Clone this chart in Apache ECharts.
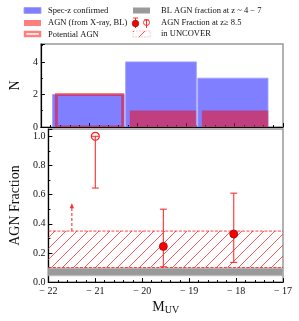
<!DOCTYPE html>
<html><head><meta charset="utf-8">
<script src="https://cdn.jsdelivr.net/npm/echarts@6/dist/echarts.min.js"></script>
<style>html,body{margin:0;padding:0;background:#fff}#c{width:299px;height:321px}</style>
</head><body><div id="c"></div><script>
// ---- data ----
const specBins = [[-21.76, -20.28], [-20.25, -18.79], [-18.76, -17.31]];
const specCounts = [2, 4, 3];
const agnBins = [[-20.16, -18.8], [-18.67, -17.31]];
const agnCounts = [1, 1];
const potBins = [[-21.68, -20.31]];
const potCounts = [2];
const blBand = [0.045, 0.095];
const uncoverBand = [0.10, 0.35];
const fracX = [-19.55, -18.05];
const fracY = [0.245, 0.33];
const fracLo = [0.105, 0.135];
const fracHi = [0.50, 0.61];
const openX = [-21.0];
const openY = [1.0];
const openLo = [0.645];
const openHi = [1.0];
const arrowX = [-21.5];
const arrowFrom = [0.35];
const arrowTo = [0.54];

const FONT = '"Liberation Serif","DejaVu Serif",serif';
const chart = echarts.init(document.getElementById('c'), null, {renderer: 'canvas'});

// hatch pattern
const pc = document.createElement('canvas'); pc.width = 11; pc.height = 11;
const g = pc.getContext('2d');
g.strokeStyle = 'rgba(255,60,60,0.85)'; g.lineWidth = 1;
g.beginPath(); g.moveTo(0, 11); g.lineTo(11, 0); g.moveTo(-1, 1); g.lineTo(1, -1); g.moveTo(10, 12); g.lineTo(12, 10); g.stroke();
const hatch = {image: pc, repeat: 'repeat'};

function rectSeries(bins, vals, styleFn, z) {
  return {
    type: 'custom', xAxisIndex: 0, yAxisIndex: 0, z: z, clip: true, silent: true,
    data: bins.map((b, i) => [b[0], b[1], vals[i]]),
    encode: {x: [0, 1], y: 2},
    renderItem: (params, api) => {
      const a = api.coord([api.value(0), api.value(2)]);
      const b = api.coord([api.value(1), 0]);
      return {type: 'rect', shape: {x: a[0], y: a[1], width: b[0] - a[0], height: b[1] - a[1]}, style: styleFn()};
    }
  };
}
function bandSeries(band, styleFn, z) {
  return {
    type: 'custom', xAxisIndex: 1, yAxisIndex: 1, z: z, clip: true, silent: true,
    data: [[-22, -17, band[0], band[1]]],
    encode: {x: [0, 1], y: [2, 3]},
    renderItem: (params, api) => {
      const a = api.coord([api.value(0), api.value(3)]);
      const b = api.coord([api.value(1), api.value(2)]);
      return {type: 'rect', shape: {x: a[0], y: a[1], width: b[0] - a[0], height: b[1] - a[1]}, style: styleFn()};
    }
  };
}
function bandLines(band, z) {
  return {
    type: 'custom', xAxisIndex: 1, yAxisIndex: 1, z: z, clip: true, silent: true,
    data: band.map(v => [-22, -17, v]),
    encode: {x: [0, 1], y: 2},
    renderItem: (params, api) => {
      const a = api.coord([api.value(0), api.value(2)]);
      const b = api.coord([api.value(1), api.value(2)]);
      return {type: 'line', shape: {x1: a[0], y1: a[1], x2: b[0], y2: b[1]},
        style: {stroke: 'rgba(255,30,30,0.85)', lineWidth: 1, lineDash: [3, 1.5]}};
    }
  };
}
function errSeries(xs, lo, hi, z) {
  return {
    type: 'custom', xAxisIndex: 1, yAxisIndex: 1, z: z, silent: true,
    data: xs.map((x, i) => [x, lo[i], hi[i]]),
    encode: {x: 0, y: [1, 2]},
    renderItem: (params, api) => {
      const a = api.coord([api.value(0), api.value(1)]);
      const b = api.coord([api.value(0), api.value(2)]);
      const st = {stroke: '#ff3030', lineWidth: 1.1};
      return {type: 'group', children: [
        {type: 'line', shape: {x1: a[0], y1: a[1], x2: b[0], y2: b[1]}, style: st},
        {type: 'line', shape: {x1: a[0] - 3.5, y1: a[1], x2: a[0] + 3.5, y2: a[1]}, style: st},
        {type: 'line', shape: {x1: b[0] - 3.5, y1: b[1], x2: b[0] + 3.5, y2: b[1]}, style: st}
      ]};
    }
  };
}
const arrowSeries = {
  type: 'custom', xAxisIndex: 1, yAxisIndex: 1, z: 6, silent: true,
  data: arrowX.map((x, i) => [x, arrowFrom[i], arrowTo[i]]),
  encode: {x: 0, y: [1, 2]},
  renderItem: (params, api) => {
    const a = api.coord([api.value(0), api.value(1)]);
    const b = api.coord([api.value(0), api.value(2)]);
    return {type: 'group', children: [
      {type: 'line', shape: {x1: a[0], y1: a[1], x2: b[0], y2: b[1] + 4}, style: {stroke: '#ff3030', lineWidth: 1.1, lineDash: [3, 2]}},
      {type: 'polygon', shape: {points: [[b[0], b[1]], [b[0] - 2.2, b[1] + 5], [b[0] + 2.2, b[1] + 5]]}, style: {fill: '#ff3030'}}
    ]};
  }
};

const tickLbl = {fontFamily: FONT, fontSize: 10, color: '#111'};

const option = {
  animation: false,
  backgroundColor: '#fff',
  grid: [
    {left: 32, top: 44, width: 251, height: 83, show: true, borderColor: '#999', borderWidth: 1.5, backgroundColor: 'transparent'},
    {left: 32, top: 129, width: 251, height: 163, show: true, borderColor: '#999', borderWidth: 1.5, backgroundColor: 'transparent'}
  ],
  xAxis: [
    {type: 'value', gridIndex: 0, min: -22, max: -17, interval: 1,
      axisLine: {show: true, onZero: false, lineStyle: {color: '#000', width: 1.2}},
      axisTick: {inside: true, length: 4, lineStyle: {color: '#000'}},
      minorTick: {show: true, splitNumber: 5, length: 2, lineStyle: {color: '#000'}},
      axisLabel: {show: false}, splitLine: {show: false}},
    {type: 'value', gridIndex: 1, min: -22, max: -17, interval: 1,
      axisLine: {show: true, onZero: false, lineStyle: {color: '#000', width: 1.2}},
      axisTick: {inside: true, length: 4, lineStyle: {color: '#000'}},
      minorTick: {show: true, splitNumber: 5, length: 2, lineStyle: {color: '#000'}},
      axisLabel: Object.assign({margin: 4, formatter: v => '\u2212 ' + Math.abs(v)}, tickLbl),
      splitLine: {show: false},
      name: '{m|M}{s|UV}', nameLocation: 'middle', nameGap: 17,
      nameTextStyle: {rich: {m: {fontFamily: FONT, fontSize: 14, color: '#111'}, s: {fontFamily: FONT, fontSize: 10, color: '#111', verticalAlign: 'bottom', padding: [6, 0, 0, 0]}}}}
  ],
  yAxis: [
    {type: 'value', gridIndex: 0, min: 0, max: 5.1, interval: 2,
      axisLine: {show: true, lineStyle: {color: '#000', width: 1.2}},
      axisTick: {inside: true, length: 4, lineStyle: {color: '#000'}},
      minorTick: {show: true, splitNumber: 2, length: 2, lineStyle: {color: '#000'}},
      axisLabel: Object.assign({margin: 3, showMaxLabel: false}, tickLbl),
      splitLine: {show: false},
      name: 'N', nameLocation: 'middle', nameGap: 12, nameRotate: 90,
      nameTextStyle: {fontFamily: FONT, fontSize: 14, color: '#111'}},
    {type: 'value', gridIndex: 1, min: 0, max: 1.05, interval: 0.2,
      axisLine: {show: true, lineStyle: {color: '#000', width: 1.2}},
      axisTick: {inside: true, length: 4, lineStyle: {color: '#000'}},
      minorTick: {show: true, splitNumber: 2, length: 2, lineStyle: {color: '#000'}},
      axisLabel: Object.assign({margin: 3, showMaxLabel: false, formatter: v => v.toFixed(1)}, tickLbl),
      splitLine: {show: false},
      name: 'AGN Fraction', nameLocation: 'middle', nameGap: 19, nameRotate: 90,
      nameTextStyle: {fontFamily: FONT, fontSize: 14, color: '#111'}}
  ],
  series: [
    rectSeries(specBins, specCounts, () => ({fill: 'rgba(0,0,255,0.5)', stroke: 'rgba(160,160,255,0.9)', lineWidth: 1}), 2),
    rectSeries(agnBins, agnCounts, () => ({fill: 'rgba(255,0,0,0.5)', stroke: 'rgba(200,60,120,0.6)', lineWidth: 0.6}), 3),
    rectSeries(potBins, potCounts, () => ({fill: 'none', stroke: 'rgba(255,0,0,0.5)', lineWidth: 3}), 4),
    bandSeries(blBand, () => ({fill: '#9a9a9a', stroke: 'rgba(180,180,180,0.7)', lineWidth: 1.5}), 2),
    bandSeries(uncoverBand, () => ({fill: hatch}), 2),
    bandLines(uncoverBand, 3),
    arrowSeries,
    errSeries(fracX, fracLo, fracHi, 5),
    errSeries(openX, openLo, openHi, 6),
    {type: 'scatter', xAxisIndex: 1, yAxisIndex: 1, z: 7, silent: true, symbol: 'circle', symbolSize: 8,
      data: fracX.map((x, i) => [x, fracY[i]]),
      itemStyle: {color: '#ff0000', borderColor: '#8a1010', borderWidth: 0.8, opacity: 1}},
    {type: 'scatter', xAxisIndex: 1, yAxisIndex: 1, z: 5, silent: true, symbol: 'circle', symbolSize: 8,
      data: openX.map((x, i) => [x, openY[i]]),
      itemStyle: {color: 'rgba(255,255,255,0)', borderColor: '#ff2020', borderWidth: 1.2, opacity: 1}}
  ],
  graphic: [
    // left column
    {type: 'rect', shape: {x: 24, y: 7.5, width: 17, height: 6}, style: {fill: 'rgba(0,0,255,0.5)', stroke: 'rgba(160,160,255,0.9)'}},
    {type: 'text', x: 48, y: 10.5, style: {text: 'Spec-z confirmed', font: '8.5px ' + FONT, fill: '#111', verticalAlign: 'middle'}},
    {type: 'rect', shape: {x: 24, y: 20, width: 17, height: 6}, style: {fill: 'rgba(255,0,0,0.5)'}},
    {type: 'text', x: 48, y: 23, style: {text: 'AGN (from X-ray, BL)', font: '8.5px ' + FONT, fill: '#111', verticalAlign: 'middle'}},
    {type: 'rect', shape: {x: 25, y: 32, width: 15, height: 4}, style: {fill: '#fff', stroke: 'rgba(255,0,0,0.5)', lineWidth: 2.5}},
    {type: 'text', x: 48, y: 34.5, style: {text: 'Potential AGN', font: '8.5px ' + FONT, fill: '#111', verticalAlign: 'middle'}},
    // right column
    {type: 'rect', shape: {x: 133, y: 7.5, width: 17, height: 6}, style: {fill: '#9a9a9a'}},
    {type: 'text', x: 161, y: 10.5, style: {text: 'BL AGN fraction at z ~ 4 \u2212 7', font: '8.5px ' + FONT, fill: '#111', verticalAlign: 'middle'}},
    {type: 'line', shape: {x1: 135.5, y1: 18, x2: 135.5, y2: 28}, style: {stroke: '#ff3030', lineWidth: 1}},
    {type: 'line', shape: {x1: 133, y1: 18, x2: 138, y2: 18}, style: {stroke: '#ff3030', lineWidth: 1}},
    {type: 'circle', shape: {cx: 135.5, cy: 23.5, r: 3.2}, style: {fill: '#ff0000', stroke: '#8a1010', lineWidth: 0.8}},
    {type: 'line', shape: {x1: 146.5, y1: 20, x2: 146.5, y2: 28}, style: {stroke: '#ff3030', lineWidth: 1}},
    {type: 'line', shape: {x1: 144, y1: 20, x2: 149, y2: 20}, style: {stroke: '#ff3030', lineWidth: 1}},
    {type: 'circle', shape: {cx: 146.5, cy: 22.5, r: 3}, style: {fill: 'none', stroke: '#ff3030', lineWidth: 1}},
    {type: 'text', x: 161, y: 22.5, style: {text: 'AGN Fraction at z\u2265 8.5', font: '8.5px ' + FONT, fill: '#111', verticalAlign: 'middle'}},
    {type: 'rect', shape: {x: 133, y: 31, width: 17, height: 6}, style: {fill: hatch, stroke: 'rgba(255,60,60,0.5)', lineWidth: 0.6, lineDash: [2, 1]}},
    {type: 'text', x: 161, y: 33.5, style: {text: 'in UNCOVER', font: '8.5px ' + FONT, fill: '#111', verticalAlign: 'middle'}}
  ]
};
chart.setOption(option);
</script></body></html>
